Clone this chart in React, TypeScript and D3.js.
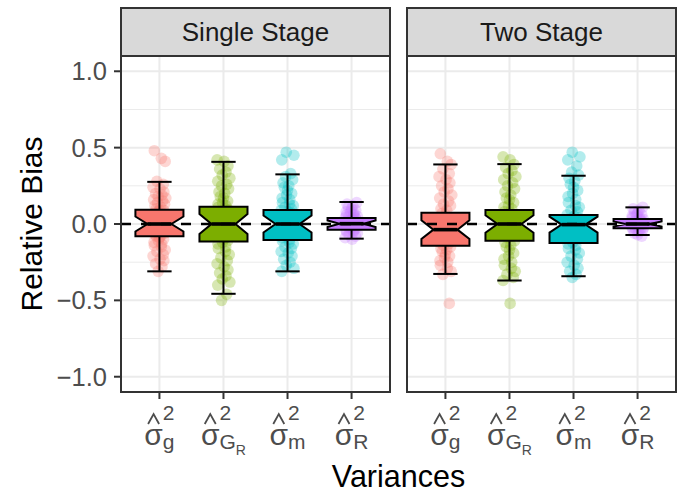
import React from "react";
import * as d3 from "d3";

// ---------- data ----------
const panels = ["Single Stage", "Two Stage"];
const categories = ["g", "GR", "m", "R"];
const fills = ["#F8766D", "#7CAE00", "#00BFC4", "#C77CFF"];

// box statistics per panel, per category (g, G_R, m, R)
const lowerWhisker = [
  [-0.31, -0.457, -0.31, -0.096],
  [-0.327, -0.37, -0.342, -0.072],
];
const lowerHinge = [
  [-0.08, -0.115, -0.105, -0.037],
  [-0.142, -0.109, -0.124, -0.028],
];
const medians = [
  [0.0, 0.0, 0.0, 0.002],
  [-0.037, 0.0, -0.004, 0.0],
];
const upperHinge = [
  [0.093, 0.113, 0.092, 0.039],
  [0.074, 0.092, 0.059, 0.033],
];
const upperWhisker = [
  [0.276, 0.407, 0.325, 0.144],
  [0.39, 0.392, 0.316, 0.109],
];
const sampleSize = 31;

// jittered observations
const singleG = [0.48, 0.43, 0.41, 0.28, 0.26, 0.24, 0.23, 0.21, 0.2, 0.19, 0.18, 0.17, 0.16, 0.15, 0.14, 0.13, 0.12, 0.11, 0.1, 0.09, 0.09, 0.08, 0.07, 0.06, 0.05, 0.05, 0.04, 0.03, 0.02, 0.02, 0.01, 0.0, 0.0, -0.01, -0.02, -0.03, -0.03, -0.04, -0.05, -0.06, -0.07, -0.08, -0.08, -0.09, -0.1, -0.11, -0.12, -0.13, -0.14, -0.15, -0.17, -0.18, -0.2, -0.21, -0.23, -0.24, -0.26, -0.28, -0.31];
const singleGR = [0.42, 0.41, 0.38, 0.36, 0.34, 0.32, 0.3, 0.28, 0.26, 0.25, 0.23, 0.21, 0.2, 0.18, 0.17, 0.15, 0.14, 0.13, 0.12, 0.11, 0.1, 0.09, 0.08, 0.07, 0.06, 0.05, 0.04, 0.03, 0.02, 0.01, 0.0, -0.01, -0.02, -0.03, -0.05, -0.06, -0.07, -0.08, -0.1, -0.11, -0.12, -0.13, -0.15, -0.16, -0.18, -0.2, -0.22, -0.24, -0.26, -0.28, -0.3, -0.32, -0.34, -0.36, -0.38, -0.4, -0.46, -0.5];
const singleM = [0.47, 0.45, 0.42, 0.33, 0.31, 0.29, 0.27, 0.25, 0.24, 0.22, 0.2, 0.19, 0.17, 0.16, 0.14, 0.13, 0.12, 0.11, 0.1, 0.09, 0.08, 0.07, 0.06, 0.05, 0.04, 0.03, 0.02, 0.01, 0.0, -0.01, -0.02, -0.03, -0.04, -0.05, -0.06, -0.07, -0.09, -0.1, -0.11, -0.12, -0.13, -0.15, -0.16, -0.18, -0.19, -0.21, -0.23, -0.25, -0.27, -0.29, -0.31];
const singleR = [0.14, 0.13, 0.12, 0.11, 0.1, 0.09, 0.08, 0.08, 0.07, 0.06, 0.06, 0.05, 0.05, 0.04, 0.04, 0.03, 0.03, 0.02, 0.02, 0.02, 0.01, 0.01, 0.0, 0.0, 0.0, -0.01, -0.01, -0.02, -0.02, -0.03, -0.03, -0.04, -0.04, -0.05, -0.05, -0.06, -0.07, -0.08, -0.09, -0.1];
const twoG = [0.46, 0.41, 0.39, 0.36, 0.33, 0.31, 0.29, 0.27, 0.25, 0.23, 0.21, 0.19, 0.17, 0.15, 0.13, 0.12, 0.1, 0.09, 0.07, 0.06, 0.04, 0.03, 0.02, 0.01, 0.0, -0.01, -0.02, -0.03, -0.04, -0.05, -0.06, -0.07, -0.08, -0.09, -0.1, -0.11, -0.12, -0.13, -0.14, -0.15, -0.16, -0.17, -0.18, -0.2, -0.21, -0.22, -0.24, -0.25, -0.27, -0.29, -0.31, -0.33, -0.52];
const twoGR = [0.44, 0.42, 0.39, 0.37, 0.35, 0.33, 0.31, 0.29, 0.27, 0.25, 0.23, 0.21, 0.19, 0.17, 0.16, 0.14, 0.12, 0.11, 0.1, 0.08, 0.07, 0.06, 0.05, 0.03, 0.02, 0.01, 0.0, -0.01, -0.02, -0.03, -0.05, -0.06, -0.08, -0.09, -0.11, -0.12, -0.14, -0.15, -0.17, -0.19, -0.21, -0.23, -0.25, -0.27, -0.29, -0.31, -0.33, -0.35, -0.37, -0.52];
const twoM = [0.47, 0.44, 0.42, 0.38, 0.34, 0.32, 0.3, 0.28, 0.26, 0.24, 0.22, 0.2, 0.18, 0.16, 0.14, 0.12, 0.11, 0.09, 0.08, 0.06, 0.05, 0.04, 0.03, 0.02, 0.01, 0.0, -0.01, -0.02, -0.03, -0.04, -0.05, -0.07, -0.08, -0.09, -0.1, -0.12, -0.13, -0.14, -0.16, -0.17, -0.19, -0.21, -0.23, -0.25, -0.27, -0.29, -0.31, -0.33, -0.35];
const twoR = [0.11, 0.1, 0.09, 0.08, 0.07, 0.06, 0.06, 0.05, 0.04, 0.04, 0.03, 0.03, 0.02, 0.02, 0.01, 0.01, 0.0, 0.0, -0.01, -0.01, -0.02, -0.02, -0.03, -0.03, -0.04, -0.04, -0.05, -0.06, -0.07, -0.08];
const observations = [
  [singleG, singleGR, singleM, singleR],
  [twoG, twoGR, twoM, twoR],
];
// fixed jitter pattern (fraction of the jitter width)
const jitterPattern = [-0.8, 0.3, 0.9, -0.4, 0.6, -1, 0.1, 0.7, -0.6, 0.4, -0.2, 1, -0.9, 0.5, -0.3, 0.8, -0.7, 0.2, -0.5, 0.0, 0.65, -0.15, -0.85, 0.35];

const yTicks = [-1, -0.5, 0, 0.5, 1];
const yMinor = [-0.75, -0.25, 0.25, 0.75];
const yTickLabels = ["\u22121.0", "\u22120.5", "0.0", "0.5", "1.0"];
// x label pieces: subscript and sub-subscript
const xSub = ["g", "G", "m", "R"];
const xSubSub = ["", "R", "", ""];

// ---------- layout ----------
const W = 686, H = 493;
const panelX = [[121, 390], [407, 676]];
const panelTop = 56, panelBottom = 392, stripTop = 8;
const FONT = "'Liberation Sans', Arial, Helvetica, sans-serif";

let ctx: CanvasRenderingContext2D | null = null;
function measure(t: string, size: number) {
  if (!ctx) ctx = document.createElement("canvas").getContext("2d");
  if (!ctx) return t.length * size * 0.55;
  ctx.font = `${size}px ${FONT}`;
  return ctx.measureText(t).width;
}

const y = d3.scaleLinear().domain([-1.1, 1.1]).range([panelBottom, panelTop]);

function XLabel({ cx, i }: { cx: number; i: number }) {
  const F = 30, s = 21, ss = 14;
  const sigW = measure("\u03c3", F);
  const supW = measure("2", s);
  const subW = measure(xSub[i], s) + (xSubSub[i] ? measure(xSubSub[i], ss) : 0);
  const total = sigW + Math.max(supW, subW);
  const left = cx - total / 2;
  const base = 445;
  const sc = left + sigW / 2;
  const col = "#4D4D4D";
  return (
    <g fill={col} fontFamily={FONT}>
      <text x={left} y={base} fontSize={F}>{"\u03c3"}</text>
      <path d={`M${sc - 5.5},${424} L${sc},${414} L${sc + 5.5},${424}`} fill="none" stroke={col} strokeWidth={1.8} />
      <text x={left + sigW} y={420} fontSize={s}>2</text>
      <text x={left + sigW} y={449} fontSize={s}>{xSub[i]}</text>
      {xSubSub[i] && (
        <text x={left + sigW + measure(xSub[i], s)} y={455} fontSize={ss}>{xSubSub[i]}</text>
      )}
    </g>
  );
}

function Panel({ p }: { p: number }) {
  const [x0, x1] = panelX[p];
  const x = d3.scalePoint<string>().domain(categories).range([x0, x1]).padding(0.6);
  const step = x.step();
  const bw = step * 0.75;
  const ew = step * 0.38;
  const nw = 0.5;
  const jw = step * 0.1;
  return (
    <g>
      <rect x={x0} y={panelTop} width={x1 - x0} height={panelBottom - panelTop} fill="#FFFFFF" />
      {yMinor.map((v) => (
        <line key={"mn" + v} x1={x0} x2={x1} y1={y(v)} y2={y(v)} stroke="#EBEBEB" strokeWidth={1} />
      ))}
      {yTicks.map((v) => (
        <line key={"mj" + v} x1={x0} x2={x1} y1={y(v)} y2={y(v)} stroke="#EBEBEB" strokeWidth={2} />
      ))}
      {categories.map((c) => (
        <line key={"v" + c} x1={x(c)!} x2={x(c)!} y1={panelTop} y2={panelBottom} stroke="#EBEBEB" strokeWidth={2} />
      ))}
      {/* jittered points */}
      {categories.map((c, ci) =>
        observations[p][ci].map((v, k) => (
          <circle
            key={c + k}
            cx={x(c)! + jitterPattern[(k + ci * 5) % jitterPattern.length] * jw}
            cy={y(v)}
            r={5.8}
            fill={fills[ci]}
            fillOpacity={0.3}
          />
        ))
      )}
      {/* boxes */}
      {categories.map((c, ci) => {
        const cx = x(c)!;
        const lo = lowerWhisker[p][ci], q1 = lowerHinge[p][ci], md = medians[p][ci], q3 = upperHinge[p][ci], hi = upperWhisker[p][ci];
        const notch = (1.58 * (q3 - q1)) / Math.sqrt(sampleSize);
        const l = cx - bw / 2, r = cx + bw / 2, nl = cx - (bw * nw) / 2, nr = cx + (bw * nw) / 2;
        const path = d3.path();
        path.moveTo(l, y(q3));
        path.lineTo(l, y(md + notch));
        path.lineTo(nl, y(md));
        path.lineTo(l, y(md - notch));
        path.lineTo(l, y(q1));
        path.lineTo(r, y(q1));
        path.lineTo(r, y(md - notch));
        path.lineTo(nr, y(md));
        path.lineTo(r, y(md + notch));
        path.lineTo(r, y(q3));
        path.closePath();
        return (
          <g key={"b" + c} stroke="#000" strokeWidth={2}>
            <line x1={cx} x2={cx} y1={y(lo)} y2={y(hi)} />
            <line x1={cx - ew / 2} x2={cx + ew / 2} y1={y(lo)} y2={y(lo)} />
            <line x1={cx - ew / 2} x2={cx + ew / 2} y1={y(hi)} y2={y(hi)} />
            <path d={path.toString()} fill={fills[ci]} strokeLinejoin="miter" />
            <line x1={nl} x2={nr} y1={y(md)} y2={y(md)} strokeWidth={3.6} />
          </g>
        );
      })}
      {/* reference line */}
      <line x1={x0} x2={x1} y1={y(0)} y2={y(0)} stroke="#000" strokeWidth={2.4} strokeDasharray="10 10" />
      <rect x={x0} y={panelTop} width={x1 - x0} height={panelBottom - panelTop} fill="none" stroke="#333333" strokeWidth={2} />
      {/* strip */}
      <rect x={x0} y={stripTop} width={x1 - x0} height={panelTop - stripTop} fill="#D9D9D9" stroke="#333333" strokeWidth={2} />
      <text x={(x0 + x1) / 2} y={(stripTop + panelTop) / 2} dy="0.35em" textAnchor="middle" fontSize={26} fill="#1A1A1A" fontFamily={FONT}>
        {panels[p]}
      </text>
      {/* x ticks */}
      {categories.map((c, ci) => (
        <g key={"xt" + c}>
          <line x1={x(c)!} x2={x(c)!} y1={panelBottom} y2={panelBottom + 7} stroke="#333333" strokeWidth={2} />
          <XLabel cx={x(c)!} i={ci} />
        </g>
      ))}
    </g>
  );
}

export default function App() {
  const x0 = panelX[0][0];
  return (
    <svg width={W} height={H} style={{ display: "block", position: "absolute", left: 0, top: 0 }}>
      <rect width={W} height={H} fill="#FFFFFF" />
      {panels.map((_, p) => (
        <Panel key={p} p={p} />
      ))}
      {yTicks.map((v, i) => (
        <g key={"yt" + v}>
          <line x1={x0 - 7} x2={x0} y1={y(v)} y2={y(v)} stroke="#333333" strokeWidth={2} />
          <text x={x0 - 14} y={y(v)} dy="0.35em" textAnchor="end" fontSize={25.5} fill="#4D4D4D" fontFamily={FONT}>
            {yTickLabels[i]}
          </text>
        </g>
      ))}
      <text transform={`translate(42,${y(0)}) rotate(-90)`} textAnchor="middle" fontSize={30} fill="#000" fontFamily={FONT}>
        Relative Bias
      </text>
      <text x={(panelX[0][0] + panelX[1][1]) / 2} y={487} textAnchor="middle" fontSize={30.5} fill="#000" fontFamily={FONT}>
        Variances
      </text>
    </svg>
  );
}
